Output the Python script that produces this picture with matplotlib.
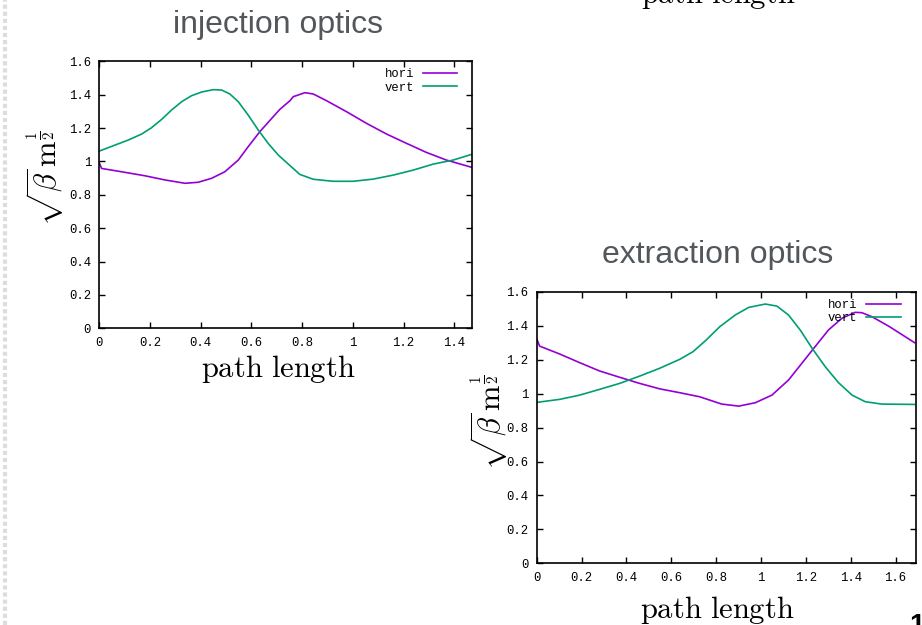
import matplotlib
matplotlib.use('Agg')
import matplotlib.pyplot as plt
from matplotlib.lines import Line2D
from matplotlib.transforms import offset_copy

plt.rcParams['mathtext.fontset'] = 'cm'

# injection optics (left panel)
inj_hori_x = [0.0, 0.009, 0.088, 0.18, 0.259, 0.338, 0.39, 0.443, 0.495, 0.548, 0.587, 0.633,
              0.68, 0.712, 0.752, 0.765, 0.811, 0.844, 0.896, 0.975, 1.054, 1.133, 1.212,
              1.29, 1.369, 1.468]
inj_hori_y = [0.992, 0.958, 0.938, 0.914, 0.889, 0.869, 0.875, 0.899, 0.938, 1.008, 1.088, 1.178,
              1.258, 1.312, 1.364, 1.388, 1.412, 1.404, 1.364, 1.298, 1.228, 1.164, 1.108,
              1.054, 1.008, 0.965]
inj_vert_x = [0.0, 0.062, 0.114, 0.167, 0.206, 0.246, 0.285, 0.325, 0.364, 0.404, 0.449, 0.482,
              0.515, 0.548, 0.587, 0.627, 0.666, 0.706, 0.752, 0.791, 0.844, 0.922, 1.001,
              1.08, 1.159, 1.238, 1.317, 1.395, 1.468]
inj_vert_y = [1.062, 1.098, 1.128, 1.164, 1.202, 1.252, 1.308, 1.358, 1.394, 1.416, 1.43, 1.428,
              1.404, 1.358, 1.278, 1.188, 1.108, 1.038, 0.975, 0.922, 0.893, 0.881, 0.881,
              0.894, 0.918, 0.948, 0.984, 1.008, 1.042]

# extraction optics (right panel)
ext_hori_x = [0.001, 0.013, 0.103, 0.192, 0.281, 0.37, 0.459, 0.548, 0.638, 0.727, 0.825,
              0.901, 0.975, 1.049, 1.123, 1.182, 1.241, 1.301, 1.361, 1.42, 1.45, 1.495,
              1.569, 1.685]
ext_hori_y = [1.321, 1.281, 1.234, 1.183, 1.134, 1.097, 1.061, 1.029, 1.006, 0.982, 0.939,
              0.927, 0.947, 0.992, 1.081, 1.179, 1.277, 1.376, 1.445, 1.48, 1.478, 1.454,
              1.399, 1.301]
ext_vert_x = [0.001, 0.103, 0.192, 0.281, 0.37, 0.459, 0.548, 0.638, 0.697, 0.756, 0.816,
              0.885, 0.945, 1.019, 1.071, 1.123, 1.175, 1.228, 1.287, 1.346, 1.406, 1.465,
              1.539, 1.685]
ext_vert_y = [0.949, 0.967, 0.992, 1.026, 1.061, 1.104, 1.15, 1.203, 1.248, 1.317, 1.395,
              1.464, 1.509, 1.529, 1.517, 1.464, 1.376, 1.268, 1.159, 1.065, 0.992, 0.953,
              0.939, 0.937]

y_ticks = [0, 0.2, 0.4, 0.6, 0.8, 1, 1.2, 1.4, 1.6]
y_ticklabels = ['0', '0.2', '0.4', '0.6', '0.8', '1', '1.2', '1.4', '1.6']
x_ticks = [0, 0.2, 0.4, 0.6, 0.8, 1, 1.2, 1.4, 1.6]
x_ticklabels = ['0', '0.2', '0.4', '0.6', '0.8', '1', '1.2', '1.4', '1.6']

HORI = '#9400d3'
VERT = '#009e73'
TITLE = '#52575c'
MONO = 'Liberation Mono'
W, H = 922, 625


def fx(px):
    return px / W


def fy(py):
    return 1 - py / H


def panel(fig, rect, hx, hy, vx, vy, xmax):
    ax = fig.add_axes(rect)
    ax.plot(hx, hy, color=HORI, lw=1.2, label='hori')
    ax.plot(vx, vy, color=VERT, lw=1.2, label='vert')
    ax.set_xticks(x_ticks)
    ax.set_xticklabels(x_ticklabels)
    ax.set_yticks(y_ticks)
    ax.set_yticklabels(y_ticklabels)
    ax.set_xlim(0, xmax)
    ax.set_ylim(0, 1.6)
    ax.tick_params(direction='in', top=True, right=True, length=4, width=1,
                   labelsize=8.8, pad=6)
    for lab in ax.get_xticklabels() + ax.get_yticklabels():
        lab.set_fontfamily(MONO)
    for s in ax.spines.values():
        s.set_linewidth(1.2)
    anchor = offset_copy(ax.transAxes, fig=fig, x=-15, y=-7, units='dots')
    ax.legend(loc='upper right', bbox_to_anchor=(1, 1), bbox_transform=anchor,
              frameon=False, markerfirst=False,
              prop={'family': MONO, 'size': 8.8}, handlelength=2.8,
              handletextpad=0.75, labelspacing=0.1, borderaxespad=0,
              borderpad=0)
    return ax


fig = plt.figure(figsize=(9.22, 6.25), dpi=100)

panel(fig, [fx(99.3), fy(328.3), fx(373), 267 / H],
      inj_hori_x, inj_hori_y, inj_vert_x, inj_vert_y, 1.471)
panel(fig, [fx(536.7), fy(563.3), fx(379), 271.3 / H],
      ext_hori_x, ext_hori_y, ext_vert_x, ext_vert_y, 1.69)

ylab = r'$\sqrt{\beta}\,\mathrm{m}^{\frac{1}{2}}$'
xlab = r'$\mathrm{path\ length}$'

fig.text(fx(278), fy(33), 'injection optics', fontsize=23, color=TITLE,
         family='Liberation Sans', ha='center', va='baseline')
fig.text(fx(718), fy(263), 'extraction optics', fontsize=23, color=TITLE,
         family='Liberation Sans', ha='center', va='baseline')
fig.text(fx(278), fy(377), xlab, fontsize=22, ha='center', va='baseline')
fig.text(fx(717), fy(618), xlab, fontsize=22, ha='center', va='baseline')
fig.text(fx(45), fy(178), ylab, fontsize=22, rotation=90, ha='center', va='center')
fig.text(fx(489), fy(422), ylab, fontsize=22, rotation=90, ha='center', va='center')

# clipped label of the chart above, page number, slide border
fig.text(fx(718), fy(3), xlab, fontsize=22, ha='center', va='baseline')
fig.text(fx(909), fy(613), '1', fontsize=20, fontweight='bold',
         family='Liberation Sans', ha='left', va='top')
fig.add_artist(Line2D([fx(5), fx(5)], [0, 1], transform=fig.transFigure,
                      color='#dddddd', lw=3, linestyle=(0, (1, 0.7))))

fig.savefig('out.png', dpi=100)
